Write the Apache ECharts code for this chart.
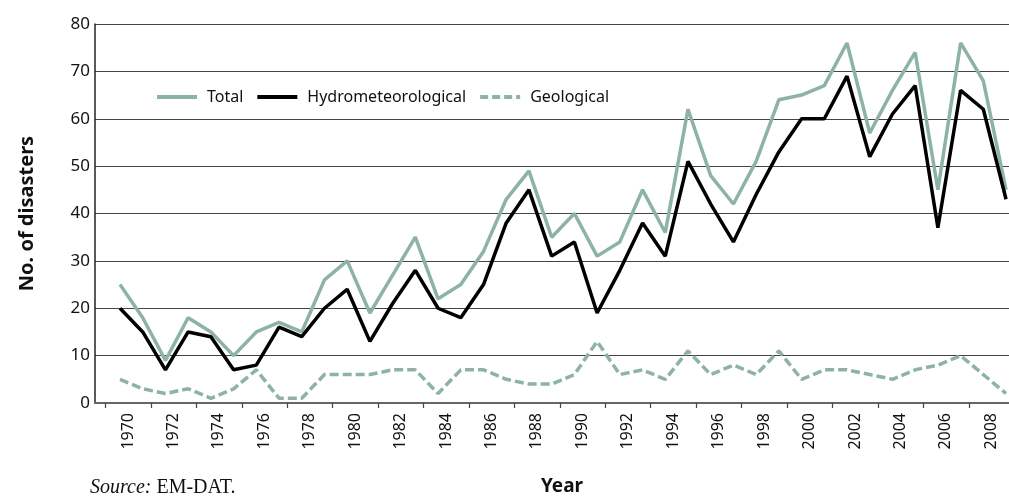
<!DOCTYPE html>
<html>
<head>
<meta charset="utf-8">
<script src="https://cdn.jsdelivr.net/npm/echarts@6/dist/echarts.min.js"></script>
<style>
  html, body { margin: 0; padding: 0; background: #fff; }
  #main { width: 1009px; height: 498px; }
</style>
</head>
<body>
<div id="main"></div>
<script>
// values (number of disasters per year)
const years = [
  1970, 1971, 1972, 1973, 1974, 1975, 1976, 1977, 1978, 1979,
  1980, 1981, 1982, 1983, 1984, 1985, 1986, 1987, 1988, 1989,
  1990, 1991, 1992, 1993, 1994, 1995, 1996, 1997, 1998, 1999,
  2000, 2001, 2002, 2003, 2004, 2005, 2006, 2007, 2008, 2009,
];
const total = [
  25, 18, 9, 18, 15, 10, 15, 17, 15, 26,
  30, 19, 27, 35, 22, 25, 32, 43, 49, 35,
  40, 31, 34, 45, 36, 62, 48, 42, 51, 64,
  65, 67, 76, 57, 66, 74, 45, 76, 68, 45,
];
const hydro = [
  20, 15, 7, 15, 14, 7, 8, 16, 14, 20,
  24, 13, 21, 28, 20, 18, 25, 38, 45, 31,
  34, 19, 28, 38, 31, 51, 42, 34, 44, 53,
  60, 60, 69, 52, 61, 67, 37, 66, 62, 43,
];
const geo = [
  5, 3, 2, 3, 1, 3, 7, 1, 1, 6,
  6, 6, 7, 7, 2, 7, 7, 5, 4, 4,
  6, 13, 6, 7, 5, 11, 6, 8, 6, 11,
  5, 7, 7, 6, 5, 7, 8, 10, 6, 2,
];
const labelYears = [
  1970, 1972, 1974, 1976, 1978, 1980, 1982, 1984, 1986, 1988,
  1990, 1992, 1994, 1996, 1998, 2000, 2002, 2004, 2006, 2008,
];

const green = "#8db3a4";
const font = "'Noto Sans', 'Open Sans', sans-serif";

// legend keys: a solid bar and a dashed bar
const solidIcon = "path://M0,0h40v4h-40z";
const dashIcon = "path://M0,0h8v4h-8z M12,0h8v4h-8z M24,0h8v4h-8z M36,0h4v4h-4z";

const chart = echarts.init(document.getElementById("main"));

function pairs(arr) {
  return years.map((y, i) => [y, arr[i]]);
}

const option = {
  animation: false,
  textStyle: { fontFamily: font, color: "#111" },
  grid: { left: 95, right: 0, top: 24, bottom: 95, outerBoundsMode: "none" },
  legend: {
    data: [
      { name: "Total", icon: solidIcon },
      { name: "Hydrometeorological", icon: solidIcon },
      { name: "Geological", icon: dashIcon },
    ],
    left: 152,
    top: 84,
    itemWidth: 40,
    itemHeight: 4,
    itemGap: 14,
    textStyle: { fontSize: 16, color: "#111", padding: [0, 0, 0, 5] },
  },
  xAxis: {
    type: "value",
    min: 1968.9,
    max: 2009.13,
    name: "Year",
    nameLocation: "middle",
    nameGap: 74,
    nameTextStyle: {
      fontSize: 19,
      fontWeight: "bold",
      color: "#111",
      padding: [0, 0, 0, 20],
    },
    splitLine: { show: false },
    axisLine: { show: true, lineStyle: { color: "#666", width: 2 } },
    axisTick: {
      show: true,
      length: 5,
      lineStyle: { color: "#444", width: 1.2 },
      customValues: labelYears.map((y) => y - 0.64),
    },
    axisLabel: {
      rotate: 90,
      fontSize: 16,
      color: "#111",
      margin: 10,
      customValues: labelYears.map((y) => y + 0.35),
      formatter: (v) => String(Math.floor(v)),
    },
  },
  yAxis: {
    type: "value",
    min: 0,
    max: 80,
    interval: 10,
    name: "No. of disasters",
    nameLocation: "middle",
    nameGap: 58,
    nameTextStyle: { fontSize: 20, fontWeight: "bold", color: "#111" },
    axisLine: { show: true, lineStyle: { color: "#222", width: 1.5 } },
    axisTick: { show: false },
    axisLabel: { fontSize: 17, color: "#111", margin: 5 },
    splitLine: { show: true, lineStyle: { color: "#444", width: 1.2 } },
  },
  series: [
    {
      name: "Geological",
      type: "line",
      symbol: "none",
      data: pairs(geo),
      lineStyle: { color: green, width: 3.5, type: [9, 4] },
      itemStyle: { color: green },
    },
    {
      name: "Total",
      type: "line",
      symbol: "none",
      data: pairs(total),
      lineStyle: { color: green, width: 3.5 },
      itemStyle: { color: green },
    },
    {
      name: "Hydrometeorological",
      type: "line",
      symbol: "none",
      data: pairs(hydro),
      lineStyle: { color: "#000", width: 3.5 },
      itemStyle: { color: "#000" },
    },
  ],
  graphic: [
    {
      type: "text",
      left: 90,
      top: 478,
      style: {
        text: "{i|Source:} EM-DAT.",
        font: "20px 'Liberation Serif', serif",
        fill: "#111",
        rich: {
          i: { fontStyle: "italic", fontFamily: "'Liberation Serif', serif", fontSize: 20 },
        },
      },
    },
  ],
};

chart.setOption(option);
</script>
</body>
</html>
